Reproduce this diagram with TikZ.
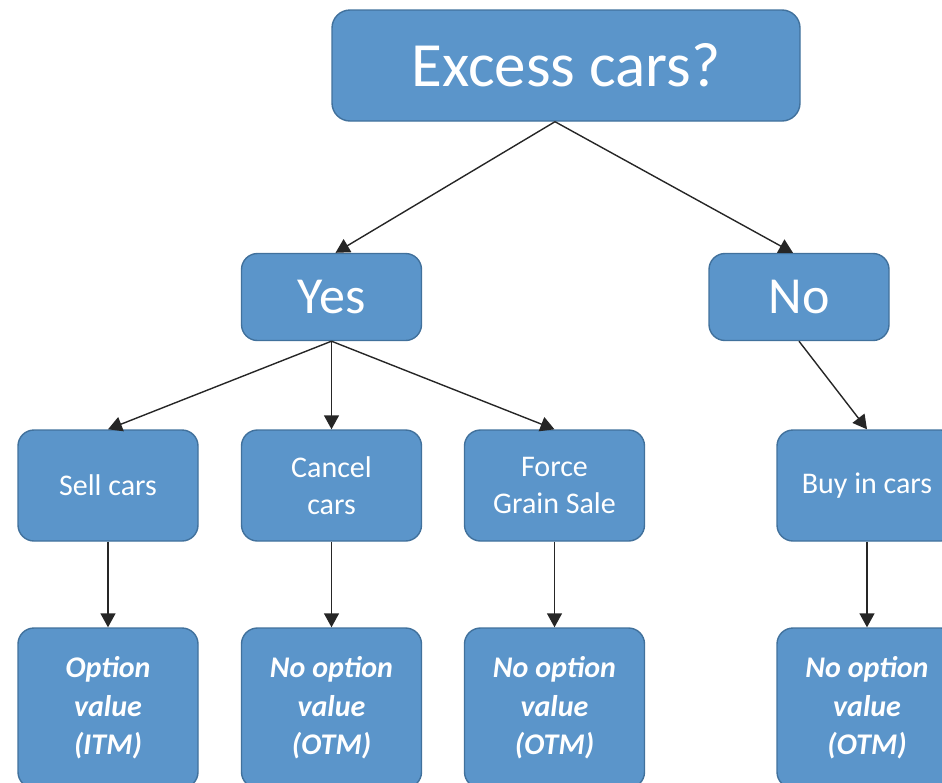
\documentclass[tikz,border=0pt]{standalone}
\usepackage{fontspec}
\setmainfont{Carlito}
\usetikzlibrary{arrows.meta,positioning,calc}
\definecolor{boxblue}{RGB}{91,149,202}
\definecolor{boxedge}{RGB}{65,113,156}

\begin{document}
\begin{tikzpicture}[x=1pt, y=-1pt,
  box/.style={draw=boxedge, line width=1.4pt, fill=boxblue, rounded corners=16pt,
              text=white, align=center, inner sep=0pt, minimum width=180pt},
  arr/.style={-{Triangle[length=14pt,width=15pt]}, line width=1.4pt, draw=black!85}]
\useasboundingbox (0,0) rectangle (942,782);
\clip (0,0) rectangle (942,782);

% question and answers
\node[box, minimum width=468pt, minimum height=111pt, rounded corners=18pt,
      font=\fontsize{63}{75}\selectfont] (excess) at (566,65.5) {Excess cars?};
\node[box, minimum height=87pt, font=\fontsize{52}{62}\selectfont] (yes) at (331.5,297) {Yes};
\node[box, minimum height=87pt, font=\fontsize{52}{62}\selectfont] (no) at (799,297) {No};

% actions
\foreach \name/\x/\txt in {sell/108/Sell cars, cancel/331.5/Cancel\\cars,
                           force/554.5/Force\\Grain Sale, buy/867/Buy in cars}
  \node[box, minimum height=111pt, font=\fontsize{30}{37}\selectfont] (\name) at (\x,485.5) {\txt};

% option value
\foreach \name/\x/\txt/\money in {sellv/108/Option/ITM, cancelv/331.5/No option/OTM,
                                  forcev/554.5/No option/OTM, buyv/867/No option/OTM}
  \node[box, minimum height=160pt, font=\fontsize{30}{38.5}\selectfont\bfseries\itshape] (\name) at (\x,708) {\txt\\value\\(\money)};

\draw[arr] ([xshift=-11pt]excess.south) -- ([xshift=4pt]yes.north);
\draw[arr] ([xshift=-11pt]excess.south) -- ([xshift=-6pt]no.north);
\foreach \kid in {sell,cancel,force} \draw[arr] (yes.south) -- (\kid.north);
\draw[arr] (no.south) -- (buy.north);
\foreach \kid in {sell,cancel,force,buy} \draw[arr] (\kid.south) -- (\kid v.north);
\end{tikzpicture}
\end{document}
